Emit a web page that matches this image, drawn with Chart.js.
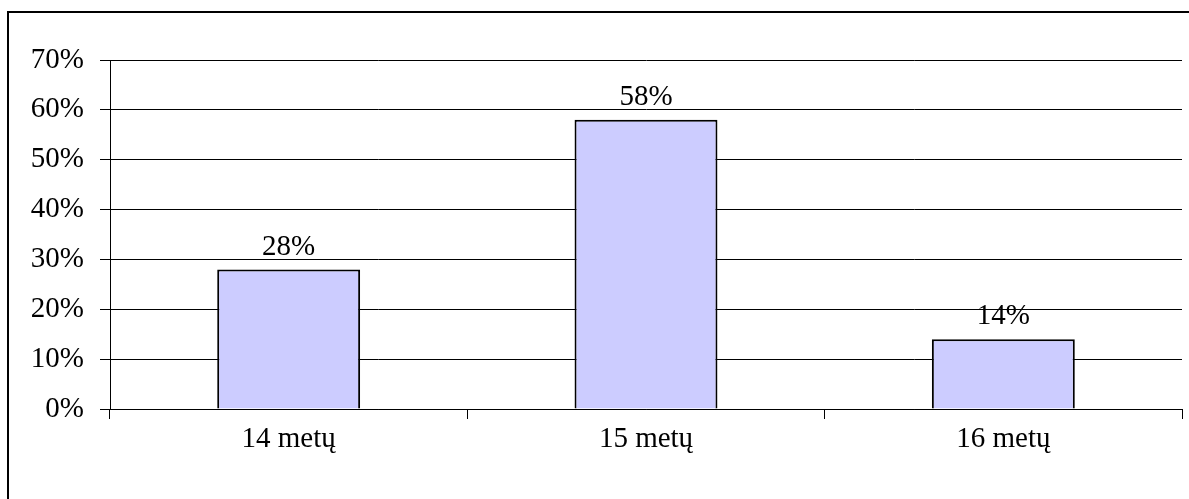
<!DOCTYPE html>
<html>
<head>
<meta charset="utf-8">
<script src="https://cdn.jsdelivr.net/npm/chart.js@4"></script>
<style>
  html, body { margin: 0; padding: 0; background: #fff; }
  #wrap { width: 1189px; height: 499px; }
</style>
</head>
<body>
<div id="wrap"><canvas id="amzius" width="1189" height="499"></canvas></div>
<script>
// duomenys
const kategorijos = ['14 metų', '15 metų', '16 metų'];
const procentai = [28, 58, 14];
const yTicks = [0, 10, 20, 30, 40, 50, 60, 70];

const serifFont = { family: '"Liberation Serif", "Times New Roman", serif', size: 29 };

// remelis aplink visa diagrama
const remelis = {
    id: 'remelis',
    afterDraw(chart) {
        const c = chart.ctx;
        c.save();
        c.strokeStyle = '#000';
        c.lineWidth = 2;
        c.beginPath();
        c.moveTo(8, 499);
        c.lineTo(8, 12);
        c.lineTo(1189, 12);
        c.stroke();
        c.restore();
    }
};

// reiksmes virs stulpeliu
const reiksmes = {
    id: 'reiksmes',
    afterDatasetsDraw(chart) {
        const c = chart.ctx;
        const meta = chart.getDatasetMeta(0);
        c.save();
        c.font = serifFont.size + 'px ' + serifFont.family;
        c.fillStyle = '#000';
        c.textAlign = 'center';
        c.textBaseline = 'bottom';
        meta.data.forEach((bar, i) => {
            c.fillText(procentai[i] + '%', bar.x, bar.y - 8);
        });
        c.restore();
    }
};

new Chart(document.getElementById('amzius'), {
    type: 'bar',
    data: {
        labels: kategorijos,
        datasets: [{
            data: procentai,
            backgroundColor: '#ccccff',
            borderColor: '#000',
            borderWidth: 2,
            barPercentage: 0.4,
            categoryPercentage: 1.0
        }]
    },
    options: {
        responsive: false,
        animation: false,
        layout: { padding: { left: 0, top: 60, right: 7, bottom: 0 } },
        plugins: { legend: { display: false }, tooltip: { enabled: false } },
        scales: {
            x: {
                grid: { color: '#000', lineWidth: 1, drawOnChartArea: false, tickLength: 10, offset: true },
                border: { color: '#000', width: 1 },
                ticks: { color: '#000', font: serifFont, padding: 3, maxRotation: 0 },
                afterFit(scale) { scale.height = 90; }
            },
            y: {
                min: 0,
                max: 70,
                afterBuildTicks(scale) { scale.ticks = yTicks.map(v => ({ value: v })); },
                grid: { color: '#000', lineWidth: 1, tickLength: 10 },
                border: { color: '#000', width: 1 },
                ticks: { color: '#000', font: serifFont, padding: 16, callback: v => v + '%' },
                afterFit(scale) { scale.width = 110; }
            }
        }
    },
    plugins: [remelis, reiksmes]
});
</script>
</body>
</html>
